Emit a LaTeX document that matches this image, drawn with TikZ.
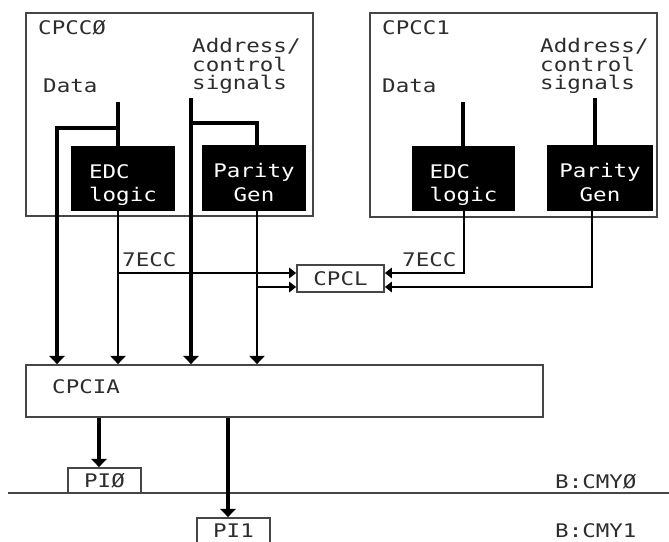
\documentclass[tikz,border=0pt]{standalone}
\usepackage{fontspec}
\newfontfamily\plotfont[FakeStretch=1.2]{DejaVu Sans Mono}
\usetikzlibrary{arrows.meta}
\definecolor{framegray}{RGB}{70,70,70}
\definecolor{inkgray}{RGB}{45,45,45}

\begin{document}
\begin{tikzpicture}[
    x=0.03cm, y=-0.03cm,
    font=\plotfont\fontsize{16}{16}\selectfont,
    text=inkgray,
    >={Triangle[width=13pt,length=7pt]},
    bus/.style={line width=3.8pt},
    sig/.style={line width=1.3pt},
    tolink/.style={sig, -{Triangle[width=9pt,length=6pt]}},
    frame/.style={draw=framegray, line width=1.7pt, fill=white},
    frameline/.style={draw=framegray, line width=1.7pt},
    logic/.style={draw=black, fill=black, text=white, line width=1pt,
                  align=left, minimum width=3.06cm, minimum height=1.84cm,
                  text height=44pt, text depth=4pt,
                  font=\plotfont\fontsize{16}{20.4}\selectfont},
    unit/.style={draw=framegray, line width=1.5pt, fill=white, inner sep=0pt},
    lbl/.style={inner sep=0pt, anchor=base west},
]
\useasboundingbox (0,0) rectangle (669,542);
\clip (0,0) rectangle (669,542);

%% CPCC0
\node[frame, minimum width=8.61cm, minimum height=6.09cm] (cpcc0) at (169.5,114.5) {};
\node[lbl] (cpcc0name) at (38,35) {CPCCØ};
\node[lbl] (data0) at (43,93) {Data};
\node[lbl, anchor=north west, align=left] (adr0) at (192,38) {Address/\\control\\signals};
\node[logic] (edc0) at (123,178.5) {EDC\\logic};
\node[logic, align=center] (par0) at (254,178) {Parity\\Gen};

%% CPCC1
\node[frame, minimum width=8.61cm, minimum height=6.12cm] (cpcc1) at (513.5,115) {};
\node[lbl] (cpcc1name) at (382,35) {CPCC1};
\node[lbl] (data1) at (382,93) {Data};
\node[lbl, anchor=north west, align=left] (adr1) at (540,38) {Address/\\control\\signals};
\node[logic, minimum width=3.03cm] (edc1) at (463.5,178.5) {EDC\\logic};
\node[logic, align=center, minimum width=3.12cm] (par1) at (600,178) {Parity\\Gen};

%% CPCL and CPCIA
\node[unit, minimum width=2.61cm, minimum height=0.81cm] (cpcl) at (340.5,278.5) {CPCL};
\node[lbl] (ecc0) at (122,267) {7ECC};
\node[lbl] (ecc1) at (402,267) {7ECC};
\node[unit, minimum width=15.51cm, minimum height=1.56cm] (cpcia) at (284.5,391) {};
\node[lbl] (cpcianame) at (52,393) {CPCIA};

%% bus B:CMY
\coordinate (busL) at (8,493);
\coordinate (busR) at (669,493);
\draw[frameline] (busL) -- (busR);
\node[unit, minimum width=2.19cm, minimum height=0.75cm] (pi0) at (104.5,480.5) {PIØ};
\node[unit, minimum width=2.19cm, minimum height=0.75cm] (pi1) at (233.5,530.5) {PI1};
\node[lbl] (cmy0) at (555,488) {B:CMYØ};
\node[lbl] (cmy1) at (555,537) {B:CMY1};

%% columns and rows
\coordinate (colD0) at (57,0);
\coordinate (colE0) at (118,0);
\coordinate (colP0) at (257,0);
\coordinate (colE1) at (464,0);
\coordinate (colP1) at (592,0);
\coordinate (colO0) at (99,0);
\coordinate (colO1) at (228,0);
\coordinate (rowU) at (0,273);
\coordinate (rowL) at (0,287);
\coordinate (dtop0) at (118,102);
\coordinate (atop0) at (191,98);
\coordinate (dtop1) at (463,102);
\coordinate (atop1) at (595,98);
\coordinate (dbr0) at (118,128);
\coordinate (abr0) at (191,123);

%% CPCC0 paths
\draw[bus] (dtop0) -- (dtop0 |- edc0.north);
\draw[bus,->] (dbr0) -| (colD0 |- cpcia.north);
\draw[bus,->] (atop0) -- (atop0 |- cpcia.north);
\draw[bus] (abr0) -| (colP0 |- par0.north);
\draw[sig,->] (colE0 |- edc0.south) -- (colE0 |- cpcia.north);
\draw[sig,->] (colP0 |- par0.south) -- (colP0 |- cpcia.north);
\draw[tolink] (colE0 |- rowU) -- (cpcl.west |- rowU);
\draw[tolink] (colP0 |- rowL) -- (cpcl.west |- rowL);

%% CPCC1 paths
\draw[bus] (dtop1) -- (dtop1 |- edc1.north);
\draw[bus] (atop1) -- (atop1 |- par1.north);
\draw[tolink] (colE1 |- edc1.south) |- (cpcl.east |- rowU);
\draw[tolink] (colP1 |- par1.south) |- (cpcl.east |- rowL);

%% CPCIA outputs
\draw[bus,->] (colO0 |- cpcia.south) -- (colO0 |- pi0.north);
\draw[bus,->] (colO1 |- cpcia.south) -- (colO1 |- pi1.north);

\end{tikzpicture}
\end{document}
